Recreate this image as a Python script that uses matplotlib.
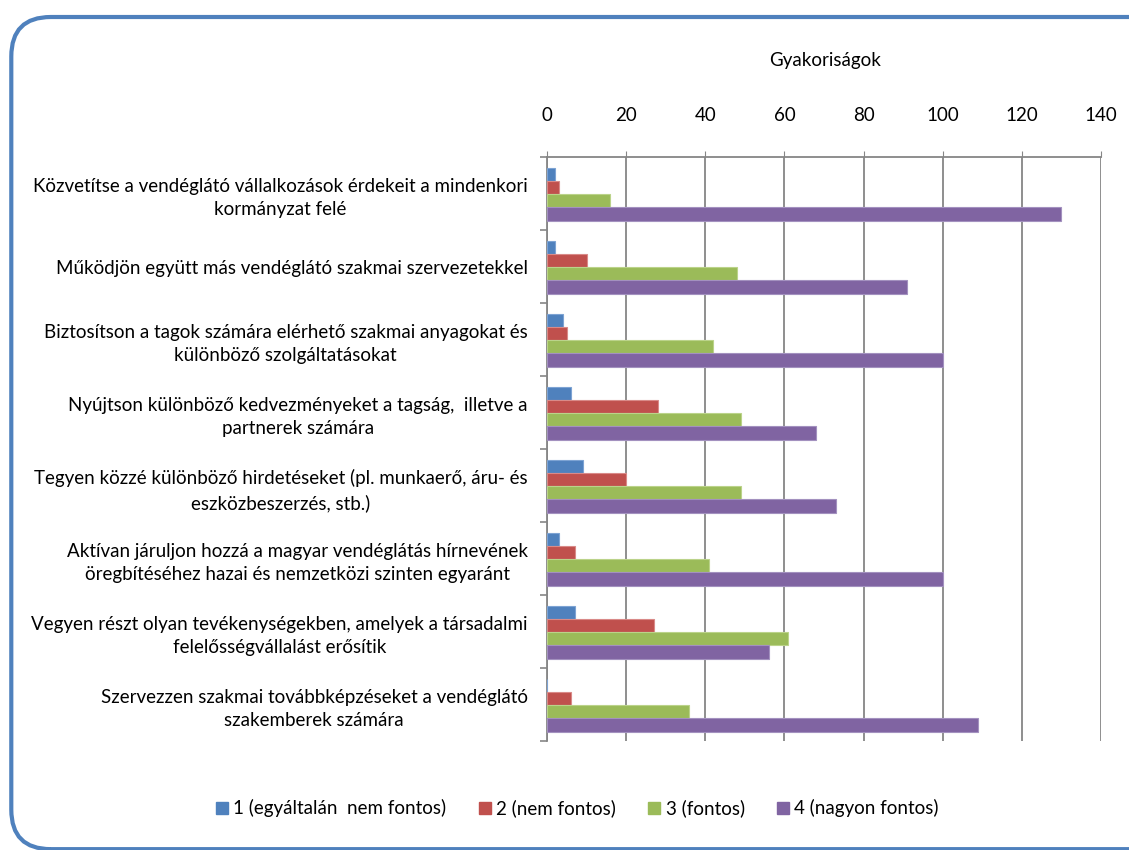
import numpy as np
import matplotlib.pyplot as plt
from matplotlib.patches import FancyBboxPatch
from matplotlib.lines import Line2D

plt.rcParams['font.family'] = ['Lato', 'DejaVu Sans']

# Data
categories = [
    "Közvetítse a vendéglátó vállalkozások érdekeit a mindenkori\nkormányzat felé",
    "Működjön együtt más vendéglátó szakmai szervezetekkel",
    "Biztosítson a tagok számára elérhető szakmai anyagokat és\nkülönböző szolgáltatásokat",
    "Nyújtson különböző kedvezményeket a tagság,  illetve a\npartnerek számára",
    "Tegyen közzé különböző hirdetéseket (pl. munkaerő, áru- és\neszközbeszerzés, stb.)",
    "Aktívan járuljon hozzá a magyar vendéglátás hírnevének\nöregbítéséhez hazai és nemzetközi szinten egyaránt",
    "Vegyen részt olyan tevékenységekben, amelyek a társadalmi\nfelelősségvállalást erősítik",
    "Szervezzen szakmai továbbképzéseket a vendéglátó\nszakemberek számára",
]
series_names = ["1 (egyáltalán  nem fontos)", "2 (nem fontos)", "3 (fontos)", "4 (nagyon fontos)"]
not_at_all = [2, 2, 4, 6, 9, 3, 7, 0]
not_important = [3, 10, 5, 28, 20, 7, 27, 6]
important = [16, 48, 42, 49, 49, 41, 61, 36]
very_important = [130, 91, 100, 68, 73, 100, 56, 109]
x_ticks = [0, 20, 40, 60, 80, 100, 120, 140]

colors = ['#4F81BD', '#C0504D', '#9BBB59', '#8064A2']
edges = ['#7DA3D3', '#D98A88', '#BBD38A', '#A391BF']
grid_col = '#868686'
fs = 13.5

fig = plt.figure(figsize=(11.29, 8.5), dpi=100)
ax = fig.add_axes([0.4845, 0.1282, 0.4907, 0.6871])

y = np.arange(len(categories))
h = 0.18
all_series = [not_at_all, not_important, important, very_important]
for i, vals in enumerate(all_series):
    ax.barh(y + (i - 1.5) * h + 0.01, vals, height=h, color=colors[i],
            edgecolor=edges[i], linewidth=0.8, zorder=3)

ax.set_xlim(0, 140)
ax.set_ylim(len(categories) - 0.5, -0.5)
ax.xaxis.tick_top()
ax.set_xticks(x_ticks)
ax.set_xticklabels([str(v) for v in x_ticks], fontsize=fs)
ax.tick_params(axis='x', direction='out', length=4, color=grid_col, pad=20)
ax.grid(axis='x', color=grid_col, linewidth=1.3, zorder=0)

ax.set_yticks(y)
ax.set_yticklabels(categories, fontsize=fs, multialignment='center', linespacing=1.45)
ax.tick_params(axis='y', which='major', length=0, pad=14)
ax.set_yticks(np.arange(len(categories) + 1) - 0.5, minor=True)
ax.tick_params(axis='y', which='minor', length=5, color=grid_col, width=1.2)

for s in ['bottom', 'right']:
    ax.spines[s].set_visible(False)
for s in ['top', 'left']:
    ax.spines[s].set_color(grid_col)
    ax.spines[s].set_linewidth(1.3)

fig.text(0.731, 0.929, "Gyakoriságok", ha='center', va='center', fontsize=fs)

handles = [Line2D([], [], marker='s', linestyle='', markersize=9,
                  markerfacecolor=c, markeredgecolor=c) for c in colors]
fig.legend(handles, series_names, loc='center', bbox_to_anchor=(0.51, 0.049),
           ncol=4, frameon=False, fontsize=fs, handletextpad=0.1,
           columnspacing=1.55, handlelength=1.0)

# rounded chart-area border, cut off at right and bottom like the screenshot
border = FancyBboxPatch((0.010, 0.001), 1.05, 0.979, transform=fig.transFigure,
                        boxstyle='round,pad=0,rounding_size=0.035',
                        facecolor='none', edgecolor='#4F81BD', linewidth=3,
                        mutation_aspect=1129 / 850)
fig.patches.append(border)

fig.savefig('out.png', dpi=100)
